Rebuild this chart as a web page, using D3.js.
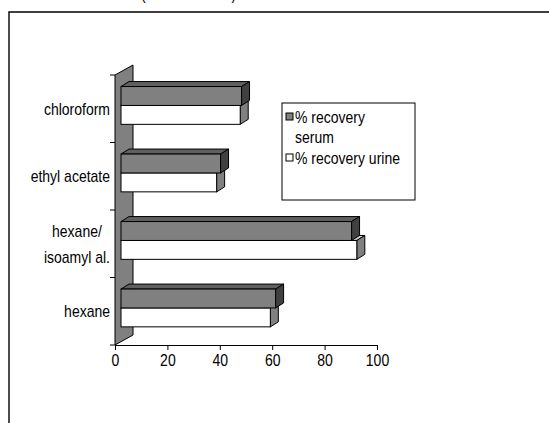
<!DOCTYPE html>
<html>
<head>
<meta charset="utf-8">
<script src="https://cdn.jsdelivr.net/npm/d3@7/dist/d3.min.js"></script>
<style>
  html, body { margin: 0; padding: 0; background: #fff; }
  svg { display: block; }
  text { font-family: "Liberation Sans", Arial, sans-serif; fill: #000; }
</style>
</head>
<body>
<svg id="chart" width="549" height="423"></svg>
<script>
// Solvents (top to bottom) and recovery per matrix, in percent
const solvents = ["chloroform", "ethyl acetate", "hexane/\nisoamyl al.", "hexane"];
const serumRecovery = [46, 38, 88, 59];
const urineRecovery = [45.5, 36.5, 90, 57];
const seriesNames = ["% recovery serum", "% recovery urine"];
const xTicks = [0, 20, 40, 60, 80, 100];

const svg = d3.select("#chart");
const W = 549, H = 423;
const FONT = 14, STRETCH = 1.15;   // slightly tall lettering

// text placed at a baseline point, stretched vertically about that point
function label(parent, px, py, str, anchor) {
  return parent.append("text")
    .attr("transform", `translate(${px},${py}) scale(1,${STRETCH})`)
    .attr("font-size", FONT)
    .attr("text-anchor", anchor || "start")
    .text(str);
}

// Outer frame (extends past the right and bottom edges)
svg.append("path")
  .attr("d", `M9,${H + 2} L9,12 L${W + 2},12`)
  .attr("fill", "none").attr("stroke", "#000").attr("stroke-width", 1.4);

// Title line sitting mostly above the visible area
label(svg, 141, -0.5, "(mean of n = 3)");

// Plot geometry: front plane plus an oblique depth direction
const x0 = 115, x1 = 377, yTop = 75, yBot = 345;
const wallDepth = { dx: 18, dy: -10 };
const barFront = { dx: 6, dy: -3.3 };   // bars sit part-way into the depth
const barDepth = { dx: 8, dy: -5 };

const x = d3.scaleLinear().domain([0, 100]).range([x0, x1]);
const y = d3.scaleBand().domain(solvents).range([yTop, yBot]).paddingInner(0.44).paddingOuter(0.22);
const ySub = d3.scaleBand().domain(seriesNames).range([0, y.bandwidth()]);

// Back wall
svg.append("path")
  .attr("d", `M${x0},${yTop} L${x0 + wallDepth.dx},${yTop + wallDepth.dy} L${x0 + wallDepth.dx},${yBot + wallDepth.dy} L${x0},${yBot} Z`)
  .attr("fill", "#808080").attr("stroke", "#000").attr("stroke-width", 1);

// Category axis ticks on the wall's front edge
const step = (yBot - yTop) / solvents.length;
const yBounds = d3.range(solvents.length + 1).map(i => yTop + i * step);
svg.append("g").selectAll("line").data(yBounds).join("line")
  .attr("x1", x0 - 5).attr("x2", x0).attr("y1", d => d).attr("y2", d => d)
  .attr("stroke", "#000");

// Value axis along the front floor edge
const xAxis = d3.axisBottom(x).tickValues(xTicks).tickSize(5).tickSizeOuter(0).tickFormat(d3.format("d"));
const gx = svg.append("g").attr("transform", `translate(0,${yBot})`).call(xAxis);
gx.select(".domain").attr("stroke", "#000");
gx.selectAll(".tick line").attr("stroke", "#000");
gx.selectAll(".tick text").remove();
gx.selectAll(".tick").each(function (d) {
  label(d3.select(this), 0, 21, d3.format("d")(d), "middle");
});

// 3D bars
const styles = {
  "% recovery serum": { front: "#808080", top: "#5f5f5f", side: "#404040" },
  "% recovery urine": { front: "#ffffff", top: "#d0d0d0", side: "#808080" }
};
const rows = [];
solvents.forEach((s, i) => {
  rows.push({ solvent: s, series: seriesNames[0], value: serumRecovery[i] });
  rows.push({ solvent: s, series: seriesNames[1], value: urineRecovery[i] });
});
// draw lower bars first so upper bars' faces overlap correctly
rows.sort((a, b) => (y(b.solvent) + ySub(b.series)) - (y(a.solvent) + ySub(a.series)));

const bars = svg.append("g").selectAll("g").data(rows).join("g");
bars.each(function (d) {
  const g = d3.select(this);
  const st = styles[d.series];
  const bx0 = x(0) + barFront.dx, bx1 = x(d.value) + barFront.dx;
  const by0 = y(d.solvent) + ySub(d.series) + barFront.dy;
  const by1 = by0 + ySub.bandwidth();
  const ddx = barDepth.dx, ddy = barDepth.dy;
  g.append("path")
    .attr("d", `M${bx0},${by0} L${bx0 + ddx},${by0 + ddy} L${bx1 + ddx},${by0 + ddy} L${bx1},${by0} Z`)
    .attr("fill", st.top).attr("stroke", "#000").attr("stroke-width", 1).attr("stroke-linejoin", "round");
  g.append("path")
    .attr("d", `M${bx1},${by0} L${bx1 + ddx},${by0 + ddy} L${bx1 + ddx},${by1 + ddy} L${bx1},${by1} Z`)
    .attr("fill", st.side).attr("stroke", "#000").attr("stroke-width", 1).attr("stroke-linejoin", "round");
  g.append("rect")
    .attr("x", bx0).attr("y", by0).attr("width", bx1 - bx0).attr("height", by1 - by0)
    .attr("fill", st.front).attr("stroke", "#000").attr("stroke-width", 1);
});

// Category labels: lines centred on each other, block right-aligned
const labelRight = 110;
solvents.forEach(s => {
  const lines = s.split("\n");
  const cy = y(s) + y.bandwidth() / 2;
  const lh = 26;
  const nodes = lines.map(ln => label(svg, 0, 0, ln, "middle"));
  const widths = nodes.map(n => n.node().getComputedTextLength());
  const cx = labelRight - d3.max(widths) / 2;
  nodes.forEach((n, i) => {
    n.attr("transform", `translate(${cx},${cy + (i - (lines.length - 1) / 2) * lh + 6}) scale(1,${STRETCH})`);
  });
});

// Legend
const lg = svg.append("g");
lg.append("rect").attr("x", 282).attr("y", 103).attr("width", 133).attr("height", 97)
  .attr("fill", "#fff").attr("stroke", "#000").attr("stroke-width", 1);
const legendItems = [
  { lines: ["% recovery", "serum"], fill: "#808080", y: 118 },
  { lines: ["% recovery urine"], fill: "#ffffff", y: 159 }
];
legendItems.forEach(it => {
  lg.append("rect").attr("x", 286).attr("y", it.y - 5).attr("width", 7).attr("height", 7)
    .attr("fill", it.fill).attr("stroke", "#000").attr("stroke-width", 1);
  it.lines.forEach((ln, i) => label(lg, 295, it.y + 5 + i * 20, ln));
});
</script>
</body>
</html>
